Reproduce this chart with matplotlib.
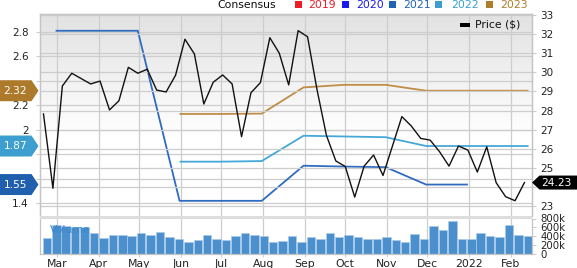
import numpy as np
import pandas as pd
import matplotlib
matplotlib.use("Agg")
import matplotlib.pyplot as plt
import matplotlib.dates as mdates
from matplotlib.patches import Polygon, Rectangle
from matplotlib.transforms import IdentityTransform
from matplotlib.colors import LinearSegmentedColormap
from matplotlib.ticker import FuncFormatter

plt.rcParams['font.family'] = ['DejaVu Sans']

# ---------------- data ----------------
price_dates = pd.date_range("2021-02-19", periods=52, freq="7D")
price = [27.82, 23.93, 29.28, 29.95, 29.67, 29.39, 29.54, 28.03, 28.51, 30.26,
         29.95, 30.16, 29.07, 28.97, 29.84, 31.73, 30.96, 28.34, 29.48, 29.86,
         29.39, 26.63, 28.93, 29.46, 31.81, 31.00, 29.34, 32.18, 31.86, 29.10,
         26.70, 25.36, 25.07, 23.47, 25.09, 25.67, 24.60, 26.14, 27.68, 27.19,
         26.54, 26.45, 25.84, 25.09, 26.14, 25.93, 24.78, 26.10, 24.22, 23.49,
         23.28, 24.23]
volume_k = [350, 657, 635, 613, 613, 467, 350, 431, 431, 409,
            482, 438, 496, 372, 343, 270, 314, 438, 336, 307,
            409, 482, 431, 409, 270, 292, 416, 263, 372, 343,
            475, 380, 431, 372, 343, 329, 380, 314, 270, 445,
            343, 642, 540, 745, 343, 329, 467, 416, 387, 664,
            438, 401]

eps_dates = pd.to_datetime(["2021-02-28", "2021-03-31", "2021-04-30", "2021-05-31",
                            "2021-06-30", "2021-07-31", "2021-08-31", "2021-09-30",
                            "2021-10-31", "2021-11-30", "2021-12-31", "2022-01-31",
                            "2022-02-14"])
nan = np.nan
eps_2021 = [2.81, 2.81, 2.81, 1.42, 1.42, 1.42, 1.707, 1.70, 1.695, 1.553, 1.553, nan, nan]
eps_2022 = [nan, nan, nan, 1.74, 1.74, 1.745, 1.952, 1.946, 1.94, 1.868, 1.868, 1.868, 1.868]
eps_2023 = [nan, nan, nan, 2.13, 2.13, 2.133, 2.347, 2.368, 2.368, 2.32, 2.32, 2.32, 2.32]

legend_years = ["2019", "2020", "2021", "2022", "2023"]
legend_colors = ["#ee1c25", "#1a1aee", "#2163b3", "#3a9fd0", "#b07d2b"]
line_colors = {"2021": "#2f6cc0", "2022": "#45a8d8", "2023": "#c08d45"}
badge_colors = {"2021": "#1f5fae", "2022": "#3d9fd0", "2023": "#ad7a2c"}

eps_ticks = [1.4, 1.6, 1.8, 2.0, 2.2, 2.4, 2.6, 2.8]
price_ticks = [23, 24, 25, 26, 27, 28, 29, 30, 31, 32, 33]
vol_ticks = [0, 200, 400, 600, 800]

# last values shown in badges
eps_badges = [(eps_2023[-1], badge_colors["2023"]),
              (eps_2022[-1], badge_colors["2022"]),
              (eps_2021[-3], badge_colors["2021"])]
last_price = price[-1]

# ---------------- layout ----------------
W, H = 577, 268
fig = plt.figure(figsize=(W / 100, H / 100), dpi=100)


def fx(px):
    return px / W


def fy(py):
    return 1 - py / H


GRID = "#cdcdcd"
SPINE = "#c4c4c4"
FS = 7.5

ax = fig.add_axes([fx(40), fy(216), fx(532) - fx(40), fy(14) - fy(216)])
axp = ax.twinx()
axv = fig.add_axes([fx(40), fy(254), fx(532) - fx(40), fy(218.5) - fy(254)], sharex=ax)

# gradient background of price panel
grad = np.linspace(0, 1, 256).reshape(-1, 1)
cmap = LinearSegmentedColormap.from_list("bg", [(0, "#e2e2e2"), (0.6, "#ffffff"), (1, "#ffffff")])
ax.imshow(grad, extent=(0, 1, 0, 1), transform=ax.transAxes, aspect="auto",
          cmap=cmap, origin="upper", zorder=0, interpolation="bilinear")

xmin = pd.Timestamp("2021-02-16 10:00")
xmax = pd.Timestamp("2022-02-16 14:00")
ax.set_xlim(xmin, xmax)

# consensus lines
for yr, vals in (("2021", eps_2021), ("2022", eps_2022), ("2023", eps_2023)):
    ax.plot(eps_dates, vals, color=line_colors[yr], lw=1.3, zorder=2, solid_capstyle="butt")

EPS_LIM = (1.296, 2.947)
PRICE_LIM = (22.48, 33.05)
ax.set_ylim(*EPS_LIM)
ax.set_yticks(eps_ticks)
eps_px = 202 / (EPS_LIM[1] - EPS_LIM[0])
price_px = 202 / (PRICE_LIM[1] - PRICE_LIM[0])


def eps_fmt(v, p):
    # labels hidden under the value badges
    if any(abs(v - b) * eps_px < 11.5 for b, _ in eps_badges):
        return ""
    return "%g" % round(v, 1)


def price_fmt(v, p):
    if abs(v - last_price) * price_px < 11:
        return ""
    return "%g" % v


ax.yaxis.set_major_formatter(FuncFormatter(eps_fmt))

# price
axp.plot(price_dates, price, color="#111111", lw=1.0, zorder=3)
axp.set_ylim(*PRICE_LIM)
axp.set_yticks(price_ticks)
axp.yaxis.set_major_formatter(FuncFormatter(price_fmt))

# volume
bar_x = price_dates + pd.Timedelta(hours=60)
axv.bar(bar_x, volume_k, width=6.3, color="#4b8fcc", edgecolor="#a9cbe9", linewidth=0.5, zorder=2)
axv.set_ylim(0, 800)
axv.yaxis.tick_right()
axv.set_yticks(vol_ticks)
axv.yaxis.set_major_formatter(FuncFormatter(lambda v, p: "0" if v == 0 else "%dk" % v))
axv.text(0.02, 0.69, "Volume", transform=axv.transAxes, color="#3c88cc",
         fontsize=FS + 0.3, va="center", ha="left", zorder=5)

# grids
for a in (ax, axv):
    a.xaxis.set_major_locator(mdates.MonthLocator())
    a.grid(axis="x", color=GRID, lw=0.9, zorder=0.5)
    a.set_axisbelow(True)
ax.grid(axis="y", color=GRID, lw=0.9)
axp.grid(axis="y", color=GRID, lw=0.9)
axp.set_axisbelow(True)


def month_fmt(v, p):
    d = mdates.num2date(v)
    return str(d.year) if d.month == 1 else d.strftime("%b")


axv.xaxis.set_major_formatter(FuncFormatter(month_fmt))
ax.tick_params(axis="x", length=0, labelbottom=False)
axv.tick_params(axis="x", length=2, color=GRID, pad=1.5, labelsize=FS + 0.3, labelcolor="#222222")
ax.tick_params(axis="y", length=3, color=GRID, pad=5, labelsize=FS, labelcolor="#222222")
axp.tick_params(axis="y", length=3, color=GRID, pad=3, labelsize=FS, labelcolor="#222222")
axv.tick_params(axis="y", length=3, color=GRID, pad=3, labelsize=FS - 0.2, labelcolor="#222222",
                left=False, labelleft=False)

for a in (ax, axp):
    for s in ("top", "left", "right"):
        a.spines[s].set_color(SPINE)
        a.spines[s].set_linewidth(0.9)
    a.spines["bottom"].set_visible(False)
for s in ("left", "right", "bottom"):
    axv.spines[s].set_color(SPINE)
    axv.spines[s].set_linewidth(0.9)
axv.spines["top"].set_visible(False)

# separator band
fig.add_artist(Rectangle((fx(40), fy(218.6)), fx(532) - fx(40), 2.8 / H,
                         transform=fig.transFigure, facecolor="#dddddd", edgecolor="none", zorder=5))


# ---------------- badges ----------------
def left_badge(val, color):
    y = ax.transData.transform((0, val))[1]
    h = 10.5
    verts = [(0, y - h), (31.5, y - h), (38.5, y), (31.5, y + h), (0, y + h)]
    fig.add_artist(Polygon(verts, closed=True, transform=IdentityTransform(),
                           facecolor=color, edgecolor="none", zorder=10))
    fig.text(15.5, y, "%.2f" % val, transform=IdentityTransform(), color="white",
             fontsize=FS + 0.2, ha="center", va="center", zorder=11)


for val, col in eps_badges:
    left_badge(val, col)

yb = axp.transData.transform((0, last_price))[1]
hb = 7
verts = [(532, yb), (539.5, yb - hb), (577, yb - hb), (577, yb + hb), (539.5, yb + hb)]
fig.add_artist(Polygon(verts, closed=True, transform=IdentityTransform(),
                       facecolor="black", edgecolor="none", zorder=10))
fig.text(556.5, yb, "%.2f" % last_price, transform=IdentityTransform(), color="white",
         fontsize=FS + 0.2, ha="center", va="center", zorder=11)

# ---------------- top legend ----------------
fig.text(fx(217), fy(5), "Consensus", fontsize=FS + 0.3, ha="left", va="center", color="#111111")
sq_x = [295, 342, 389, 435, 486]
tx_x = [308, 356, 403, 451, 500]
for yr, c, sx, tx in zip(legend_years, legend_colors, sq_x, tx_x):
    fig.add_artist(Rectangle((fx(sx), fy(8.2)), 7 / W, 7 / H, transform=fig.transFigure,
                             facecolor=c, edgecolor="none"))
    fig.text(fx(tx), fy(5), yr, fontsize=FS + 0.3, ha="left", va="center", color=c)

# price legend
fig.add_artist(Rectangle((fx(460), fy(26.8)), 10 / W, 4 / H, transform=fig.transFigure,
                         facecolor="black", edgecolor="none", zorder=6))
fig.text(fx(475), fy(24.8), "Price ($)", fontsize=FS + 0.3, ha="left", va="center", color="#111111")

fig.savefig("out.png", dpi=100)
